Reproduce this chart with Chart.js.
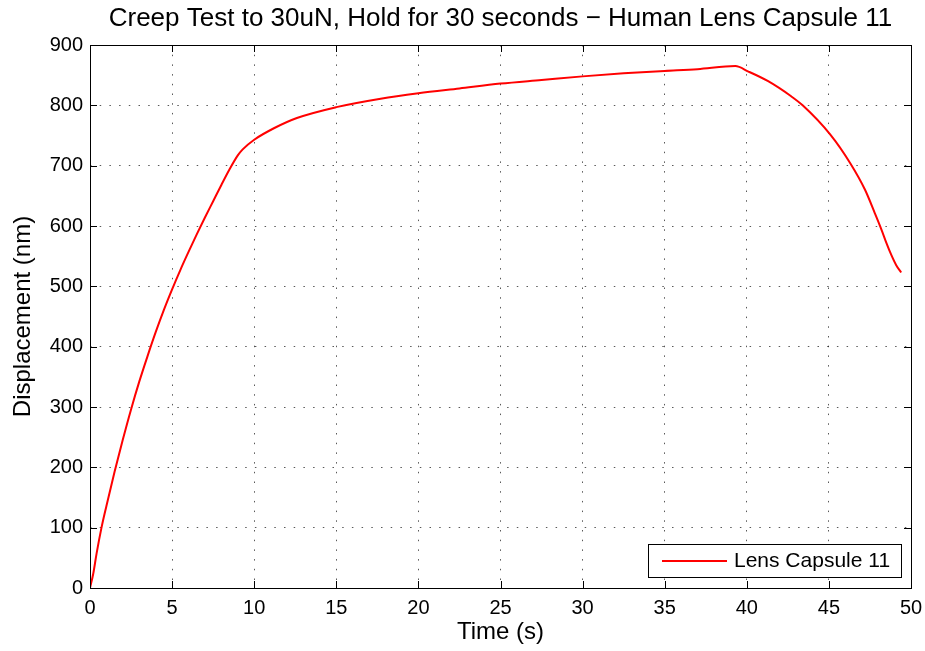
<!DOCTYPE html>
<html>
<head>
<meta charset="utf-8">
<script src="https://cdn.jsdelivr.net/npm/chart.js@4.4.0/dist/chart.umd.min.js"></script>
<style>
html, body { margin: 0; padding: 0; background: #ffffff; }
</style>
</head>
<body>
<canvas id="creepChart" width="925" height="651"></canvas>
<script>
"use strict";

// data
var chartTitle = "Creep Test to 30uN, Hold for 30 seconds \u2212 Human Lens Capsule 11";
var seriesName = "Lens Capsule 11";
var timeSec = [0, 0.2, 0.4, 0.7, 1.0, 1.5, 2.0, 2.5, 3.0, 3.5, 4.0, 4.5, 5.0, 5.5, 6.0, 6.5,
    7.0, 7.5, 8.0, 8.5, 9.0, 9.3,
    10.0, 11.2, 12.6, 15.0, 17.7, 20.0, 22.5, 25.0, 27.5, 30.0, 32.5, 35.0, 37.0, 39.3,
    40.1, 41.3, 42.7, 43.4, 45.1, 46.3, 47.2, 47.8, 48.2, 48.5, 48.8, 49.1, 49.4];
var displacementNm = [0, 24, 57, 100, 136, 193, 246, 296, 342, 384, 424, 461, 495, 527, 557, 586,
    614, 641, 668, 694, 717, 727,
    743, 762, 779, 797, 811, 820, 828, 836, 842, 848, 853, 857, 860, 865,
    856, 840, 815, 800, 751, 704, 660, 621, 594, 572, 552, 535, 523];
var xTickRange = [0, 50, 5];
var yTickRange = [0, 900, 100];

var fontFamily = "'Liberation Sans', Arial, Helvetica, sans-serif";
var lineRed = "#ff0000";

var points = timeSec.map(function (t, i) {
    return { x: t, y: displacementNm[i] };
});

// ------------------------------------------------------- //
// Box, inward ticks, title and legend (MATLAB look)
// ------------------------------------------------------ //
var matlabFrame = {
    id: "matlabFrame",
    afterDatasetsDraw: function (chart) {
        var ctx = chart.ctx;
        var a = chart.chartArea;
        var xs = chart.scales.x;
        var ys = chart.scales.y;
        var tickLen = 7;
        ctx.save();

        ctx.strokeStyle = "#000000";
        ctx.lineWidth = 1;
        ctx.setLineDash([]);
        ctx.beginPath();
        xs.ticks.forEach(function (t) {
            var px = Math.round(xs.getPixelForValue(t.value)) + 0.5;
            ctx.moveTo(px, a.bottom);
            ctx.lineTo(px, a.bottom - tickLen);
            ctx.moveTo(px, a.top);
            ctx.lineTo(px, a.top + tickLen);
        });
        ys.ticks.forEach(function (t) {
            var py = Math.round(ys.getPixelForValue(t.value)) + 0.5;
            ctx.moveTo(a.left, py);
            ctx.lineTo(a.left + tickLen, py);
            ctx.moveTo(a.right, py);
            ctx.lineTo(a.right - tickLen, py);
        });
        ctx.stroke();

        ctx.strokeRect(Math.round(a.left) + 0.5, Math.round(a.top) + 0.5,
            Math.round(a.right - a.left), Math.round(a.bottom - a.top));

        // title
        ctx.fillStyle = "#000000";
        ctx.font = "26px " + fontFamily;
        ctx.textAlign = "center";
        ctx.textBaseline = "middle";
        ctx.fillText(chartTitle, (a.left + a.right) / 2, 19);

        // legend box in the lower right corner
        var label = chart.data.datasets[0].label;
        var boxL = 648.5, boxT = 544.5, boxR = 901.5, boxB = 577.5;
        ctx.fillStyle = "#ffffff";
        ctx.fillRect(boxL, boxT, boxR - boxL, boxB - boxT);
        ctx.strokeStyle = "#000000";
        ctx.lineWidth = 1;
        ctx.strokeRect(boxL, boxT, boxR - boxL, boxB - boxT);
        ctx.strokeStyle = lineRed;
        ctx.lineWidth = 2;
        ctx.beginPath();
        ctx.moveTo(662, 561);
        ctx.lineTo(727, 561);
        ctx.stroke();
        ctx.fillStyle = "#000000";
        ctx.font = "21px " + fontFamily;
        ctx.textAlign = "left";
        ctx.fillText(label, 734, 561);

        ctx.restore();
    }
};

var CREEPCHART = document.getElementById("creepChart");
var myCreepChart = new Chart(CREEPCHART, {
    type: "line",
    plugins: [matlabFrame],
    data: {
        datasets: [
        {
            label: seriesName,
            data: points,
            borderColor: lineRed,
            backgroundColor: lineRed,
            borderWidth: 2,
            pointRadius: 0,
            fill: false,
            cubicInterpolationMode: "monotone",
        },
        ],
    },
    options: {
        responsive: false,
        animation: false,
        devicePixelRatio: 1,
        layout: {
            padding: { top: 45, right: 14, left: 0, bottom: 0 },
        },
        plugins: {
            legend: { display: false },
            title: { display: false },
            tooltip: { enabled: false },
        },
        scales: {
            x: {
                type: "linear",
                min: xTickRange[0],
                max: xTickRange[1],
                afterFit: function (scale) {
                    scale.height = 63;
                    scale.paddingRight = 0;
                    scale.paddingLeft = 0;
                },
                ticks: {
                    stepSize: xTickRange[2],
                    color: "#000000",
                    padding: 8,
                    maxRotation: 0,
                    font: { family: fontFamily, size: 20 },
                },
                grid: {
                    color: "rgba(0,0,0,0.65)",
                    lineWidth: 1,
                    drawTicks: false,
                },
                border: { display: false, dash: [1.5, 8.2] },
                title: {
                    display: true,
                    text: "Time (s)",
                    color: "#000000",
                    font: { family: fontFamily, size: 24 },
                    padding: { top: 0, bottom: 4 },
                },
            },
            y: {
                type: "linear",
                min: yTickRange[0],
                max: yTickRange[1],
                afterFit: function (scale) {
                    scale.width = 90;
                    scale.paddingTop = 0;
                    scale.paddingBottom = 0;
                },
                ticks: {
                    stepSize: yTickRange[2],
                    color: "#000000",
                    padding: 7,
                    font: { family: fontFamily, size: 20 },
                },
                grid: {
                    color: "rgba(0,0,0,0.65)",
                    lineWidth: 1,
                    drawTicks: false,
                },
                border: { display: false, dash: [1.5, 8.2] },
                title: {
                    display: true,
                    text: "Displacement (nm)",
                    color: "#000000",
                    font: { family: fontFamily, size: 24 },
                    padding: { top: 9, bottom: 0 },
                },
            },
        },
    },
});
</script>
</body>
</html>
